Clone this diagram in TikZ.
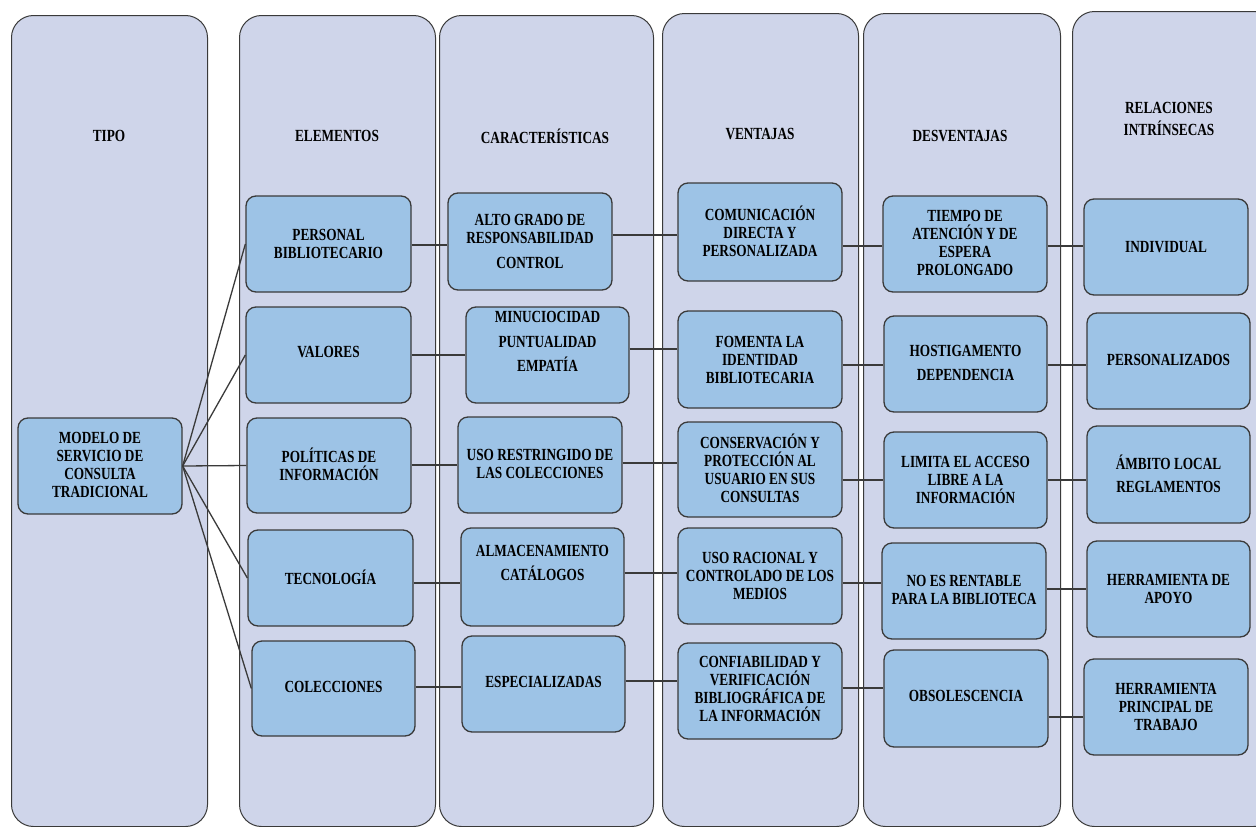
\documentclass[tikz,border=0pt]{standalone}
\usepackage{fontspec}
\newfontfamily\diagfont{Liberation Serif}[FakeStretch=0.78]

\definecolor{colfill}{RGB}{207,213,234}
\definecolor{cellfill}{RGB}{157,195,230}
\definecolor{edgegray}{RGB}{58,58,58}

\tikzset{
  column/.style={draw=edgegray, line width=1pt, fill=colfill, rounded corners=22pt, inner sep=0pt},
  cellbox/.style={draw=edgegray, line width=1.3pt, fill=cellfill, rounded corners=10pt, inner sep=0pt},
  celltext/.style={align=center, font=\diagfont\bfseries\fontsize{17}{18}\selectfont, inner sep=0pt, text=black},
  head/.style={celltext},
  link/.style={draw=edgegray, line width=1.3pt},
}

% rounded cell: name, x1, y1, x2, y2, text lift, text
\newcommand\diagcell[7]{%
  \node[cellbox, minimum width={#4-#2}, minimum height={#5-#3}] (#1) at ({(#2+#4)/2},{(#3+#5)/2}) {};
  \node[celltext] (#1-t) at ([yshift=#6pt]#1.center) {#7};}

% column panel: name, x1, y1, x2
\newcommand\diagcolumn[4]{%
  \node[column, anchor=north west, minimum width={#4-#2}, minimum height={826-#3}] (#1) at (#2,#3) {};}

% horizontal connector at a given level
\newcommand\hlink[3]{\draw[link] (#1.east |- 0,#3) -- (#2.west |- 0,#3);}

\begin{document}
\begin{tikzpicture}[x=1pt,y=-1pt]
\useasboundingbox (0,0) rectangle (1256,827);
\clip (0,0) rectangle (1256,827);

% column panels
\diagcolumn{colTipo}{11}{15}{207}
\diagcolumn{colElem}{239}{15}{435}
\diagcolumn{colCarac}{439}{15}{653}
\diagcolumn{colVent}{662}{13}{858}
\diagcolumn{colDesv}{863}{13}{1060}
\diagcolumn{colRel}{1072}{11}{1275}

% column headings
\node[head] (hTipo)  at (109,136) {TIPO};
\node[head] (hElem)  at (337,136) {ELEMENTOS};
\node[head] (hCarac) at (545,136) {CARACTERÍSTICAS};
\node[head] (hVent)  at (760,134) {VENTAJAS};
\node[head] (hDesv)  at (960,136) {DESVENTAJAS};
\node[head] (hRel)   at (1169,119) {RELACIONES\\[4pt]INTRÍNSECAS};

% type
\diagcell{modelo}{18}{418}{182}{514}{1.5}{MODELO DE\\SERVICIO DE\\CONSULTA\\TRADICIONAL}

% elements
\diagcell{personal}{246}{196}{411}{292}{0}{PERSONAL\\BIBLIOTECARIO}
\diagcell{valores}{246}{307}{411}{403}{3}{VALORES}
\diagcell{politicas}{247}{418}{411}{513}{1.5}{POLÍTICAS DE\\INFORMACIÓN}
\diagcell{tecnologia}{248}{530}{413}{626}{1}{TECNOLOGÍA}
\diagcell{colecciones}{252}{641}{415}{736}{1.5}{COLECCIONES}

% characteristics
\diagcell{alto}{448}{193}{612}{290}{0}{ALTO GRADO DE\\RESPONSABILIDAD\\[7pt]CONTROL}
\diagcell{minuc}{466}{307}{629}{403}{13.5}{MINUCIOCIDAD\\[6.5pt]PUNTUALIDAD\\[6.5pt]EMPATÍA}
\diagcell{usorest}{458}{417}{622}{513}{1}{USO RESTRINGIDO DE\\LAS COLECCIONES}
\diagcell{almac}{461}{528}{624}{626}{14}{ALMACENAMIENTO\\[6pt]CATÁLOGOS}
\diagcell{especial}{462}{636}{625}{732}{2}{ESPECIALIZADAS}

% advantages
\diagcell{comun}{678}{183}{842}{281}{0.5}{COMUNICACIÓN\\DIRECTA Y\\PERSONALIZADA}
\diagcell{fomenta}{678}{311}{842}{408}{0}{FOMENTA LA\\IDENTIDAD\\BIBLIOTECARIA}
\diagcell{conserv}{678}{422}{842}{517}{1.5}{CONSERVACIÓN Y\\PROTECCIÓN AL\\USUARIO EN SUS\\CONSULTAS}
\diagcell{usorac}{678}{528}{842}{624}{0}{USO RACIONAL Y\\CONTROLADO DE LOS\\MEDIOS}
\diagcell{confiab}{678}{643}{842}{739}{2}{CONFIABILIDAD Y\\VERIFICACIÓN\\BIBLIOGRÁFICA DE\\LA INFORMACIÓN}

% disadvantages
\diagcell{tiempo}{883}{196}{1047}{292}{1}{TIEMPO DE\\ATENCIÓN Y DE\\ESPERA\\PROLONGADO}
\diagcell{hostig}{884}{316}{1047}{412}{1}{HOSTIGAMENTO\\[6pt]DEPENDENCIA}
\diagcell{limita}{884}{432}{1047}{528}{0.5}{LIMITA EL ACCESO\\LIBRE A LA\\INFORMACIÓN}
\diagcell{noes}{882}{543}{1046}{639}{1}{NO ES RENTABLE\\PARA LA BIBLIOTECA}
\diagcell{obsol}{884}{650}{1048}{747}{2.5}{OBSOLESCENCIA}

% intrinsic relations
\diagcell{individual}{1084}{199}{1248}{295}{0}{INDIVIDUAL}
\diagcell{personaliz}{1087}{313}{1250}{409}{1}{PERSONALIZADOS}
\diagcell{ambito}{1087}{426}{1250}{523}{1}{ÁMBITO LOCAL\\[5pt]REGLAMENTOS}
\diagcell{apoyo}{1087}{541}{1250}{637}{0}{HERRAMIENTA DE\\APOYO}
\diagcell{princ}{1084}{659}{1248}{755}{0.5}{HERRAMIENTA\\PRINCIPAL DE\\TRABAJO}

% fan-out from the type
\draw[link] (modelo.east) -- (personal.west);
\draw[link] (modelo.east) -- (valores.west);
\draw[link] (modelo.east) -- (politicas.west);
\draw[link] (modelo.east) -- (tecnologia.west);
\draw[link] (modelo.east) -- (colecciones.west);

% elements -> characteristics
\hlink{personal}{alto}{245}
\hlink{valores}{minuc}{355}
\hlink{politicas}{usorest}{465}
\hlink{tecnologia}{almac}{583}
\hlink{colecciones}{especial}{687}

% characteristics -> advantages
\hlink{alto}{comun}{235}
\hlink{minuc}{fomenta}{349}
\hlink{usorest}{conserv}{463}
\hlink{almac}{usorac}{573}
\hlink{especial}{confiab}{681}

% advantages -> disadvantages
\hlink{comun}{tiempo}{246}
\hlink{fomenta}{hostig}{365}
\hlink{conserv}{limita}{480}
\hlink{usorac}{noes}{583}
\hlink{confiab}{obsol}{688}

% disadvantages -> intrinsic relations
\hlink{tiempo}{individual}{246}
\hlink{hostig}{personaliz}{365}
\hlink{limita}{ambito}{480}
\hlink{noes}{apoyo}{589}
\hlink{obsol}{princ}{717}
\end{tikzpicture}
\end{document}
